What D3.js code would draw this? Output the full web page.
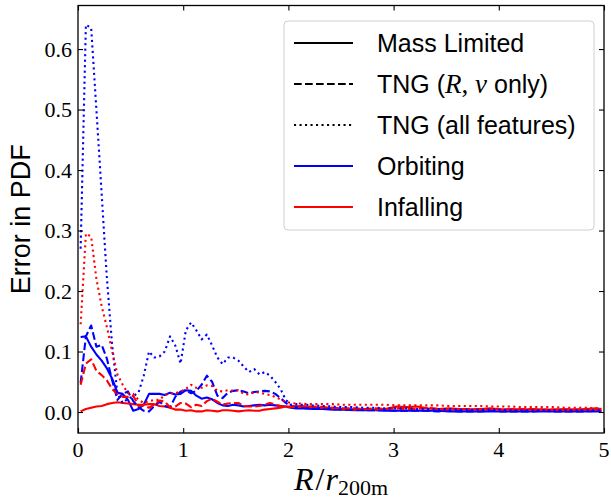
<!doctype html>
<html lang="en">
<head>
<meta charset="utf-8" />
<title>Error in PDF</title>
<script src="https://d3js.org/d3.v7.min.js"></script>
<style type="text/css">
body{
  margin: 0;
  background-color: #fff;
}
#svg_div{
  width: 611px;
  height: 500px;
}
.tick-label{
  font-family: "Liberation Serif", "DejaVu Serif", serif;
  font-size: 22px;
  fill: #000;
}
.sans{
  font-family: "Liberation Sans", "DejaVu Sans", sans-serif;
}
</style>
</head>
<body>
<div id="svg_div"></div>

<script>

// bin centres, R / r200m (fine bins up to 2.2, then every other bin)
var radius = [0.025, 0.075, 0.125, 0.175, 0.225, 0.275, 0.325, 0.375, 0.425, 0.475,
  0.525, 0.575, 0.625, 0.675, 0.725, 0.775, 0.825, 0.875, 0.925, 0.975,
  1.025, 1.075, 1.125, 1.175, 1.225, 1.275, 1.325, 1.375, 1.425, 1.475,
  1.525, 1.575, 1.625, 1.675, 1.725, 1.775, 1.825, 1.875, 1.925, 1.975,
  2.025, 2.075, 2.125, 2.175, 2.225,
  2.325, 2.425, 2.525, 2.625, 2.725, 2.825, 2.925, 3.025, 3.125, 3.225,
  3.325, 3.425, 3.525, 3.625, 3.725, 3.825, 3.925, 4.025, 4.125, 4.225,
  4.325, 4.425, 4.525, 4.625, 4.725, 4.825, 4.925, 4.975];

// orbiting, mass limited (solid blue)
var orbMass = [0.124, 0.125, 0.108, 0.095, 0.085, 0.072, 0.055, 0.032, 0.030, 0.020,
  0.002, 0.005, 0.012, 0.030, 0.030, 0.030, 0.028, 0.032, 0.029, 0.030,
  0.036, 0.035, 0.027, 0.022, 0.024, 0.021, 0.015, 0.011, 0.010, 0.012,
  0.011, 0.009, 0.010, 0.011, 0.012, 0.011, 0.012, 0.011, 0.010, 0.009,
  0.007, 0.006, 0.006, 0.006, 0.005,
  0.005, 0.004, 0.004, 0.003, 0.003, 0.003, 0.002, 0.002, 0.002, 0.002,
  0.002, 0.002, 0.001, 0.001, 0.001, 0.001, 0.001, 0.001, 0.001, 0.001,
  0.001, 0.001, 0.001, 0.001, 0.001, 0.001, 0.001, 0.001];

// orbiting, TNG (R, v only) (dashed blue)
var orbRv = [0.048, 0.125, 0.143, 0.108, 0.111, 0.088, 0.052, 0.020, 0.030, 0.034,
  0.018, 0.008, 0.002, 0.001, 0.010, 0.017, 0.010, 0.008, 0.025, 0.034,
  0.036, 0.031, 0.035, 0.045, 0.060, 0.050, 0.027, 0.023, 0.032, 0.035,
  0.036, 0.034, 0.031, 0.033, 0.034, 0.035, 0.034, 0.030, 0.023, 0.015,
  0.010, 0.008, 0.007, 0.006, 0.006,
  0.006, 0.005, 0.004, 0.004, 0.003, 0.003, 0.003, 0.002, 0.002, 0.002,
  0.002, 0.001, 0.002, 0.001, 0.001, 0.001, 0.002, 0.001, 0.001, 0.001,
  0.001, 0.002, 0.001, 0.001, 0.001, 0.001, 0.002, 0.001];

// orbiting, TNG (all features) (dotted blue)
var orbAll = [0.270, 0.640, 0.635, 0.500, 0.360, 0.220, 0.110, 0.030, 0.015, 0.022,
  0.026, 0.032, 0.060, 0.100, 0.090, 0.092, 0.100, 0.125, 0.110, 0.080,
  0.135, 0.148, 0.135, 0.120, 0.128, 0.110, 0.090, 0.079, 0.090, 0.090,
  0.085, 0.075, 0.066, 0.071, 0.062, 0.066, 0.060, 0.050, 0.038, 0.020,
  0.012, 0.013, 0.012, 0.012, 0.011,
  0.010, 0.009, 0.008, 0.008, 0.007, 0.007, 0.006, 0.006, 0.006, 0.005,
  0.005, 0.005, 0.005, 0.004, 0.004, 0.004, 0.004, 0.004, 0.003, 0.003,
  0.003, 0.003, 0.003, 0.003, 0.003, 0.003, 0.003, 0.003];

// infalling, mass limited (solid red)
var infMass = [0.001, 0.005, 0.007, 0.009, 0.010, 0.013, 0.015, 0.016, 0.015, 0.014,
  0.013, 0.012, 0.012, 0.013, 0.013, 0.010, 0.009, 0.007, 0.004, 0.004,
  0.002, 0.003, 0.001, 0.001, 0.003, 0.002, 0.001, 0.003, 0.003, 0.002,
  0.001, 0.002, 0.003, 0.002, 0.002, 0.004, 0.005, 0.006, 0.007, 0.009,
  0.009, 0.010, 0.009, 0.009, 0.008,
  0.007, 0.006, 0.005, 0.004, 0.005, 0.004, 0.005, 0.009, 0.008, 0.009,
  0.006, 0.005, 0.006, 0.005, 0.004, 0.005, 0.006, 0.004, 0.005, 0.004,
  0.005, 0.004, 0.004, 0.005, 0.004, 0.005, 0.006, 0.005];

// infalling, TNG (R, v only) (dashed red)
var infRv = [0.045, 0.080, 0.087, 0.068, 0.061, 0.052, 0.038, 0.030, 0.025, 0.025,
  0.027, 0.010, 0.011, 0.007, 0.012, 0.019, 0.017, 0.008, 0.009, 0.015,
  0.014, 0.008, 0.012, 0.010, 0.018, 0.022, 0.017, 0.012, 0.014, 0.015,
  0.015, 0.010, 0.009, 0.009, 0.010, 0.012, 0.015, 0.012, 0.010, 0.008,
  0.008, 0.009, 0.010, 0.009, 0.009,
  0.008, 0.007, 0.006, 0.006, 0.005, 0.006, 0.005, 0.006, 0.005, 0.005,
  0.007, 0.005, 0.004, 0.005, 0.005, 0.004, 0.005, 0.004, 0.004, 0.005,
  0.004, 0.004, 0.004, 0.003, 0.004, 0.004, 0.004, 0.004];

// infalling, TNG (all features) (dotted red)
var infAll = [0.145, 0.295, 0.290, 0.220, 0.175, 0.140, 0.100, 0.062, 0.045, 0.031,
  0.030, 0.020, 0.015, 0.018, 0.020, 0.020, 0.028, 0.031, 0.031, 0.034,
  0.038, 0.045, 0.040, 0.040, 0.044, 0.043, 0.035, 0.034, 0.036, 0.035,
  0.036, 0.030, 0.029, 0.033, 0.032, 0.030, 0.028, 0.025, 0.021, 0.017,
  0.015, 0.014, 0.014, 0.013, 0.013,
  0.013, 0.013, 0.012, 0.012, 0.012, 0.012, 0.012, 0.011, 0.011, 0.011,
  0.011, 0.011, 0.010, 0.010, 0.010, 0.010, 0.009, 0.009, 0.009, 0.008,
  0.008, 0.008, 0.008, 0.007, 0.007, 0.007, 0.006, 0.006];

var xTicks = [0, 1, 2, 3, 4, 5];
var yTicks = [0.0, 0.1, 0.2, 0.3, 0.4, 0.5, 0.6];

// line styles used for the three models
var styleNames = ["Mass Limited", "TNG (R, v only)", "TNG (all features)"];
var dashes = ["none", "7.7 3.3", "2.1 3.4"];
var colourNames = ["Orbiting", "Infalling"];
var colours = ["#0000ff", "#ff0000"];

// list of series to draw, in drawing order
var series = [
  {values: orbMass, style: 0, colour: 0},
  {values: infMass, style: 0, colour: 1},
  {values: orbRv, style: 1, colour: 0},
  {values: infRv, style: 1, colour: 1},
  {values: orbAll, style: 2, colour: 0},
  {values: infAll, style: 2, colour: 1}
];

function makePlot(){

  var left = 78, right = 604, top = 5.5, bottom = 433;

  var xScale = d3.scaleLinear()
    .domain([0, 5])
    .range([left, right]);

  var yScale = d3.scaleLinear()
    .domain([-0.0347, 0.672])
    .range([bottom, top]);

  var svg = d3.select("#svg_div").append("svg")
    .attr("width", 611)
    .attr("height", 500);

  // the data lines
  var line = d3.line()
    .x(function(d, i){ return xScale(radius[i]); })
    .y(function(d){ return yScale(d); });

  svg.append("g")
    .selectAll("path")
    .data(series)
    .enter()
    .append("path")
      .attr("d", function(s){ return line(s.values); })
      .attr("fill", "none")
      .attr("stroke", function(s){ return colours[s.colour]; })
      .attr("stroke-width", 2.1)
      .attr("stroke-dasharray", function(s){ return dashes[s.style]; })
      .attr("stroke-linejoin", "round");

  // axes: ticks point inwards, mirrored on top and right
  var xAxisBottom = d3.axisBottom(xScale).tickValues(xTicks).tickSizeInner(-5).tickSizeOuter(0).tickFormat("");
  var xAxisTop = d3.axisTop(xScale).tickValues(xTicks).tickSizeInner(-5).tickSizeOuter(0).tickFormat("");
  var yAxisLeft = d3.axisLeft(yScale).tickValues(yTicks).tickSizeInner(-5).tickSizeOuter(0).tickFormat("");
  var yAxisRight = d3.axisRight(yScale).tickValues(yTicks).tickSizeInner(-5).tickSizeOuter(0).tickFormat("");

  svg.append("g").attr("transform", "translate(0," + bottom + ")").call(xAxisBottom);
  svg.append("g").attr("transform", "translate(0," + top + ")").call(xAxisTop);
  svg.append("g").attr("transform", "translate(" + left + ",0)").call(yAxisLeft);
  svg.append("g").attr("transform", "translate(" + right + ",0)").call(yAxisRight);

  svg.selectAll(".domain").remove();
  svg.selectAll(".tick line").attr("stroke", "#000").attr("stroke-width", 1.1);

  // frame
  svg.append("rect")
    .attr("x", left)
    .attr("y", top)
    .attr("width", right - left)
    .attr("height", bottom - top)
    .attr("fill", "none")
    .attr("stroke", "#000")
    .attr("stroke-width", 1.3);

  // tick labels
  svg.append("g").selectAll("text")
    .data(xTicks)
    .enter()
    .append("text")
      .attr("class", "tick-label")
      .attr("x", function(d){ return xScale(d); })
      .attr("y", 457)
      .attr("text-anchor", "middle")
      .text(function(d){ return d; });

  svg.append("g").selectAll("text")
    .data(yTicks)
    .enter()
    .append("text")
      .attr("class", "tick-label")
      .attr("x", 72)
      .attr("y", function(d){ return yScale(d) + 7.5; })
      .attr("text-anchor", "end")
      .text(function(d){ return d.toFixed(1); });

  // axis titles
  svg.append("text")
    .attr("class", "sans")
    .attr("transform", "translate(30," + ((top + bottom) / 2) + ") rotate(-90)")
    .attr("text-anchor", "middle")
    .attr("font-size", "27px")
    .text("Error in PDF");

  var xTitle = svg.append("text")
    .attr("x", (left + right) / 2)
    .attr("y", 490)
    .attr("text-anchor", "middle")
    .attr("font-family", "Liberation Serif, DejaVu Serif, serif");
  xTitle.append("tspan").attr("font-style", "italic").attr("font-size", "32px").text("R");
  xTitle.append("tspan").attr("font-size", "32px").attr("dx", 2).text("/");
  xTitle.append("tspan").attr("font-style", "italic").attr("font-size", "32px").attr("dx", 1).text("r");
  xTitle.append("tspan").attr("font-size", "22px").attr("dy", 5).text("200m");

  // legend
  var legend = svg.append("g");
  legend.append("rect")
    .attr("x", 284)
    .attr("y", 21)
    .attr("width", 310)
    .attr("height", 209)
    .attr("rx", 4)
    .attr("fill", "#fff")
    .attr("fill-opacity", 0.8)
    .attr("stroke", "#d0d0d0")
    .attr("stroke-width", 1);

  var legendItems = [];
  styleNames.forEach(function(name, i){
    legendItems.push({label: name, colour: "#000", dash: dashes[i]});
  });
  colourNames.forEach(function(name, i){
    legendItems.push({label: name, colour: colours[i], dash: "none"});
  });

  var rowY = d3.scaleLinear().domain([0, 4]).range([43, 207]);

  var rows = legend.selectAll("g.item")
    .data(legendItems)
    .enter()
    .append("g")
      .attr("class", "item")
      .attr("transform", function(d, i){ return "translate(0," + rowY(i) + ")"; });

  rows.append("line")
    .attr("x1", 294)
    .attr("x2", 353)
    .attr("y1", 0)
    .attr("y2", 0)
    .attr("stroke", function(d){ return d.colour; })
    .attr("stroke-width", 2.1)
    .attr("stroke-dasharray", function(d){ return d.dash; });

  rows.each(function(d){
    var t = d3.select(this).append("text")
      .attr("class", "sans")
      .attr("x", 377)
      .attr("y", 9)
      .attr("font-size", "25px");
    if (d.label === "TNG (R, v only)"){
      t.append("tspan").text("TNG (");
      t.append("tspan").attr("font-family", "Liberation Serif, serif").attr("font-style", "italic").attr("font-size", "27px").text("R");
      t.append("tspan").attr("font-family", "Liberation Serif, serif").attr("font-size", "27px").text(", ");
      t.append("tspan").attr("font-family", "Liberation Serif, serif").attr("font-style", "italic").attr("font-size", "27px").text("v");
      t.append("tspan").text(" only)");
    } else {
      t.text(d.label);
    }
  });
}

makePlot();

</script>
</body>
</html>
